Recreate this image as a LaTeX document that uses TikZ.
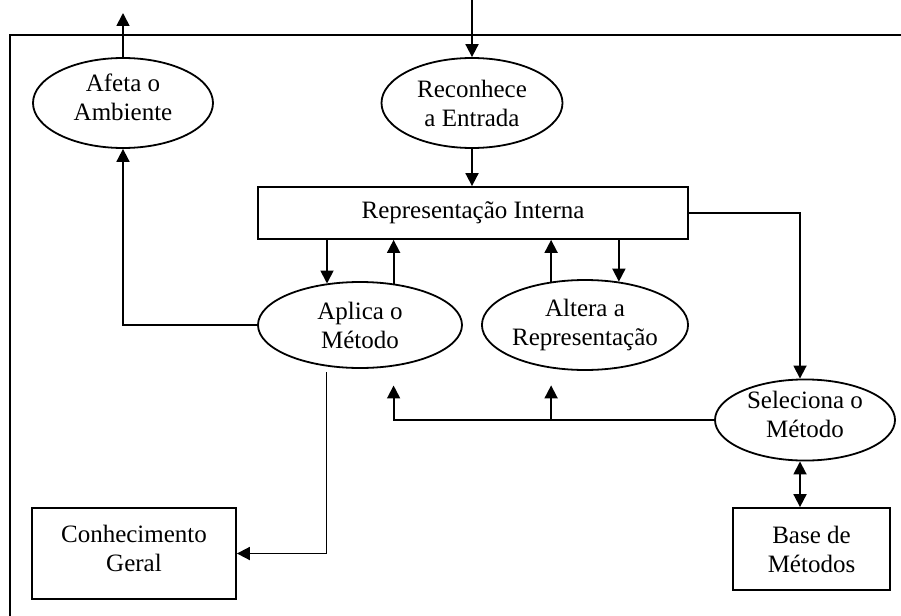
\documentclass[tikz,border=0pt]{standalone}
\usepackage{fontspec}
\setmainfont{Liberation Serif}
\usetikzlibrary{arrows.meta,shapes.geometric}
\begin{document}
\begin{tikzpicture}[x=1pt,y=-1pt,
  line width=1.8pt,
  every node/.style={font=\fontsize{25}{29}\selectfont, align=center, inner sep=0pt},
  oval/.style={draw, ellipse},
  box/.style={draw, rectangle},
  raised/.style={text depth=11pt},
  tip/.tip={Triangle[length=13pt,width=13pt]},
  arr/.style={-tip},
  dbl/.style={tip-tip}]
\useasboundingbox (0,0) rectangle (901,615);

% outer frame, running off the right and bottom edges
\begin{scope}
  \clip (0,0) rectangle (901,615);
  \draw (10,35) rectangle (940,660);
\end{scope}

% processes
\node[oval, raised, minimum width=180, minimum height=90] (afeta) at (123,103) {Afeta o\\Ambiente};
\node[oval, minimum width=181, minimum height=90] (recon) at (472,103) {Reconhece\\a Entrada};
\node[box, minimum width=430, minimum height=52] (rep) at (473,213) {Representação Interna};
\node[oval, minimum width=204, minimum height=86] (aplica) at (360,325) {Aplica o\\Método};
\node[oval, minimum width=204, minimum height=90] (altera) at (585,325) {Altera a\\Representação};
\node[oval, raised, minimum width=180, minimum height=80] (selec) at (805,420) {Seleciona o\\Método};

% stores
\node[box, raised, minimum width=204, minimum height=91] (conh) at (134,553.5) {Conhecimento\\Geral};
\node[box, minimum width=157, minimum height=82] (base) at (811.5,549) {Base de\\Métodos};

% input and output of the agent
\coordinate (saida) at (123,13);
\coordinate (entrada) at (472,0);
\draw[arr] (afeta.north) -- (saida);
\draw[arr] (entrada) -- (recon.north);
\draw[arr] (recon.south) -- (recon.south |- rep.north);

% internal representation <-> methods
\draw[arr] ([xshift=-146]rep.south) -- ([xshift=-146]rep.south |- aplica.129);
\draw[arr] (aplica.51) -- (aplica.51 |- rep.south);
\draw[arr] (altera.128) -- (altera.128 |- rep.south);
\draw[arr] (altera.52 |- rep.south) -- (altera.52);
\draw[arr] (rep.east) -| ([xshift=-5]selec.north);

% method selection
\draw[dbl] ([xshift=-5]selec.south) -- ([xshift=-5]selec.south |- base.north);
\draw[arr, shorten >=19pt] (selec.west) -| (aplica.309);
\draw[arr, shorten >=17pt] (selec.west -| altera.232) -- (altera.232);

% application of the method
\draw[arr] (aplica.west) -| (afeta.south);
\draw[arr, shorten <=6pt] (aplica.231) |- (conh.east);
\end{tikzpicture}
\end{document}
